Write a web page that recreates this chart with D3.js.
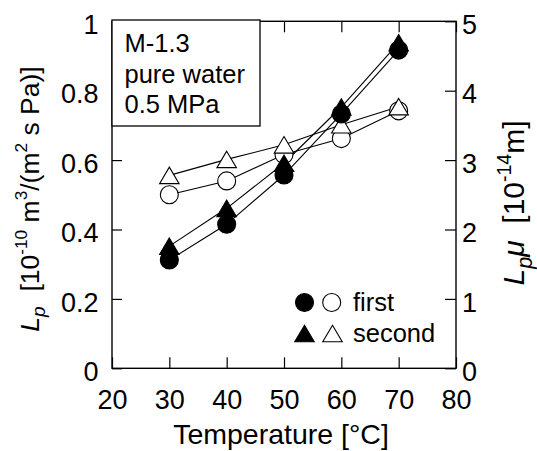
<!DOCTYPE html>
<html><head><meta charset="utf-8">
<script src="https://cdn.jsdelivr.net/npm/d3@7"></script>
<style>
body{margin:0;background:#fff;}
svg{display:block;font-family:"Liberation Sans",Arial,Helvetica,sans-serif;}
</style></head>
<body><svg id="c" width="537" height="451"></svg>
<script>
const temps = [30, 40, 50, 60, 70];
const lpFirst = [0.312, 0.415, 0.557, 0.733, 0.917];
const lpSecond = [0.352, 0.461, 0.591, 0.753, 0.938];
const lpmuFirst = [2.50, 2.70, 3.08, 3.31, 3.71];
const lpmuSecond = [2.78, 3.01, 3.22, 3.51, 3.77];
const xTicks = [20, 30, 40, 50, 60, 70, 80];
const yLeftTicks = [0, 0.2, 0.4, 0.6, 0.8, 1];
const yRightTicks = [0, 1, 2, 3, 4, 5];
const boxLines = ["M-1.3", "pure water", "0.5 MPa"];
const legendLabels = ["first", "second"];

const svg = d3.select("#c");
const L = 112, R = 456, T = 21.3, B = 368.3;
const x = d3.scaleLinear([20, 80], [L, R]);
const yL = d3.scaleLinear([0, 1], [B, T]);
const yR = d3.scaleLinear([0, 5], [B, T]);

// axes
const gx = svg.append("g").attr("transform", `translate(0,${B})`)
  .call(d3.axisBottom(x).tickValues(xTicks).tickSize(-11).tickPadding(21.8).tickFormat(d3.format("d")));
const gxt = svg.append("g").attr("transform", `translate(0,${T})`)
  .call(d3.axisTop(x).tickValues(xTicks).tickSize(-11).tickFormat(""));
const gyl = svg.append("g").attr("transform", `translate(${L},0)`)
  .call(d3.axisLeft(yL).tickValues(yLeftTicks).tickSize(-10).tickPadding(13.5)
    .tickFormat(d => (d === 0 || d === 1) ? String(d) : d.toFixed(1)));
const gyr = svg.append("g").attr("transform", `translate(${R},0)`)
  .call(d3.axisRight(yR).tickValues(yRightTicks).tickSize(-11).tickPadding(6).tickFormat(d3.format("d")));
[gx, gxt, gyl, gyr].forEach(g => {
  g.select(".domain").remove();
  g.selectAll(".tick line").attr("stroke", "#000").attr("stroke-width", 1.2);
  g.selectAll(".tick text").attr("fill", "#000").attr("font-size", 27)
    .attr("font-family", "Liberation Sans, Arial, sans-serif");
});
gyl.selectAll(".tick text").attr("dy", "0.45em");
gyr.selectAll(".tick text").attr("dy", "0.45em");

svg.append("rect").attr("x", L).attr("y", T).attr("width", R - L).attr("height", B - T)
  .attr("fill", "none").attr("stroke", "#000").attr("stroke-width", 1.4);

// series
const series = [
  {vals: lpFirst, y: yL, shape: "circle", fill: "#000"},
  {vals: lpSecond, y: yL, shape: "triangle", fill: "#000"},
  {vals: lpmuFirst, y: yR, shape: "circle", fill: "#fff"},
  {vals: lpmuSecond, y: yR, shape: "triangle", fill: "#fff"}
];
const line = d3.line();
series.forEach(s => {
  svg.append("path").attr("d", line(temps.map((t, i) => [x(t), s.y(s.vals[i])])))
    .attr("fill", "none").attr("stroke", "#000").attr("stroke-width", 1.1);
});
function tri(cx, cy, w, h) {
  const p = d3.path();
  p.moveTo(cx, cy - h / 2); p.lineTo(cx + w / 2, cy + h / 2); p.lineTo(cx - w / 2, cy + h / 2); p.closePath();
  return p.toString();
}
function marker(g, shape, cx, cy, fill) {
  if (shape === "circle") {
    g.append("circle").attr("cx", cx).attr("cy", cy).attr("r", 9)
      .attr("fill", fill).attr("stroke", "#000").attr("stroke-width", 1.1);
  } else {
    g.append("path").attr("d", tri(cx, cy, 19.5, 16.5))
      .attr("fill", fill).attr("stroke", "#000").attr("stroke-width", 1.1).attr("stroke-linejoin", "miter");
  }
}
const mg = svg.append("g");
[series[2], series[3], series[0], series[1]].forEach(s => {
  temps.forEach((t, i) => marker(mg, s.shape, x(t), s.y(s.vals[i]), s.fill));
});

// info box
svg.append("rect").attr("x", L).attr("y", 20).attr("width", 148).attr("height", 106)
  .attr("fill", "#fff").attr("stroke", "#000").attr("stroke-width", 1.3);
boxLines.forEach((t, i) => {
  svg.append("text").attr("x", 124.5).attr("y", 51.7 + i * 30.8).attr("font-size", 25.5).attr("fill", "#000").text(t);
});

// legend
const lg = svg.append("g");
marker(lg, "circle", 304.5, 302.5, "#000");
marker(lg, "circle", 331.7, 302.5, "#fff");
marker(lg, "triangle", 304.5, 333.5, "#000");
marker(lg, "triangle", 332.5, 333.5, "#fff");
legendLabels.forEach((t, i) => {
  lg.append("text").attr("x", 353).attr("y", 310.5 + i * 31.5).attr("font-size", 25.5).attr("fill", "#000").text(t);
});

// axis titles
svg.append("text").attr("x", (L + R) / 2 - 3).attr("y", 444).attr("text-anchor", "middle")
  .attr("font-size", 28.5).attr("fill", "#000").text("Temperature [°C]");

function rich(sel, parts, fs) {
  parts.forEach(p => {
    const ts = sel.append("tspan").text(p.t);
    if (p.i) ts.attr("font-style", "italic");
    if (p.s === "sup") {
      ts.attr("font-size", fs * 0.65).attr("dy", -fs * 0.42);
    } else if (p.s === "sub") {
      ts.attr("font-size", fs * 0.72).attr("dy", fs * 0.25);
    }
    if (p.back) ts.attr("dy", p.back);
  });
}
const fsY = 26.5;
const tl = svg.append("text").attr("transform", "translate(38.5,199) rotate(-90)")
  .attr("text-anchor", "middle").attr("font-size", fsY).attr("fill", "#000").attr("xml:space", "preserve");
rich(tl, [
  {t: "L", i: true},
  {t: "p", i: true, s: "sub"},
  {t: "  [10", back: -fsY * 0.25},
  {t: "-10", s: "sup"},
  {t: " m", back: fsY * 0.42},
  {t: "3", s: "sup"},
  {t: "/(m", back: fsY * 0.42},
  {t: "2", s: "sup"},
  {t: " s Pa)]", back: fsY * 0.42}
], fsY);

const fsR = 30;
const tr = svg.append("text").attr("transform", "translate(524,203) rotate(-90)")
  .attr("text-anchor", "middle").attr("font-size", fsR).attr("fill", "#000").attr("xml:space", "preserve");
rich(tr, [
  {t: "L", i: true},
  {t: "p", i: true, s: "sub"},
  {t: "μ", i: true, back: -fsR * 0.25},
  {t: "  [10"},
  {t: "-14", s: "sup"},
  {t: "m]", back: fsR * 0.42}
], fsR);
</script></body></html>
